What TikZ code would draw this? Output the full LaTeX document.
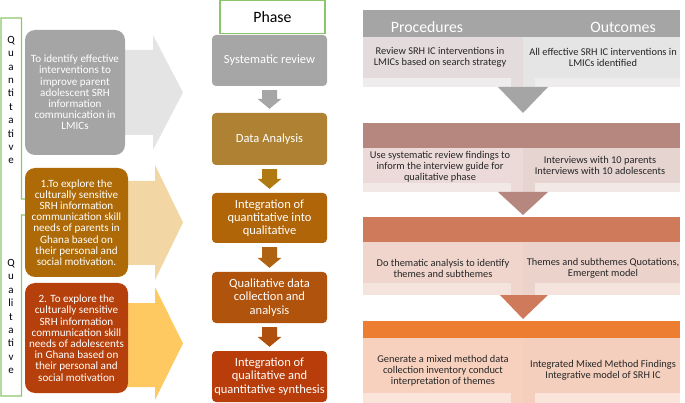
\documentclass[tikz,border=0pt]{standalone}
\usepackage{fontspec}
\setmainfont{Carlito}
\definecolor{gline}{HTML}{8CC66A}
\definecolor{gbox}{HTML}{A5A5A5}
\definecolor{garrow}{HTML}{E4E4E4}
\definecolor{tarrow}{HTML}{F2D7A4}
\definecolor{yarrow}{HTML}{FFC962}
\definecolor{bbox}{HTML}{AD6A06}
\definecolor{rbox}{HTML}{B5400C}
\definecolor{pda}{HTML}{AE8232}
\definecolor{piq}{HTML}{AF6508}
\definecolor{pqd}{HTML}{B0530C}
\definecolor{pii}{HTML}{B83D0A}
\definecolor{aa}{HTML}{A6A6A6}
\definecolor{ab}{HTML}{B07A12}
\definecolor{ac}{HTML}{AE6212}
\definecolor{ad}{HTML}{B0500F}
\definecolor{hb}{HTML}{B6877F}
\definecolor{hc}{HTML}{CF7A5B}
\definecolor{hd}{HTML}{ED7D31}
\definecolor{la}{HTML}{E4DCDC}\definecolor{ra}{HTML}{E5E5E5}\definecolor{sa}{HTML}{EEECEC}
\definecolor{lb}{HTML}{EBDAD7}\definecolor{rb}{HTML}{E6D4D1}\definecolor{sb}{HTML}{F2E8E6}
\definecolor{lc}{HTML}{F0D5CC}\definecolor{rc}{HTML}{EBD3CC}\definecolor{sc}{HTML}{F5E3DD}
\definecolor{ld}{HTML}{F7D1BE}\definecolor{rd}{HTML}{F4CFBD}\definecolor{sd}{HTML}{FBE4D9}
\begin{document}
\begin{tikzpicture}[x=1pt,y=-1pt,
  lbox/.style={rounded corners=10pt, text=white, align=center, inner sep=0pt,
    font=\fontsize{11.1}{11.2}\selectfont, minimum width=#1},
  pbox/.style={rounded corners=4pt, text=white, align=center, inner sep=0pt,
    font=\fontsize{12.5}{13.3}\selectfont, minimum width=115pt},
  ctext/.style={align=center, inner sep=0pt, text=black!85,
    font=\fontsize{10.4}{11.2}\selectfont},
  htext/.style={inner sep=0pt, text=white, font=\fontsize{15.8}{17}\selectfont},
  vtext/.style={align=center, inner sep=0pt, font=\fontsize{11}{13.4}\selectfont},
]
\useasboundingbox (0,0) rectangle (685,403);

% green bracket
\draw[gline, line width=1.1pt] (1,18) -- (21.5,18) -- (21.5,199) -- (27,199) -- (27,196) -- (33,207)
  -- (27,218) -- (27,215) -- (21.5,215) -- (21.5,396) -- (1,396) -- cycle;
\node[vtext] (quant) at (11,100) {Q\\u\\a\\n\\ti\\t\\a\\ti\\v\\e};
\node[vtext] (qual) at (11,316.5) {Q\\u\\a\\li\\t\\a\\ti\\v\\e};

% block arrows on the left
\fill[garrow] (115,50) -- (153,50) -- (153,35) -- (183,92.5) -- (153,150) -- (153,135) -- (115,135) -- cycle;
\fill[tarrow] (115,181) -- (155,181) -- (155,165) -- (183,222.5) -- (155,280) -- (155,265) -- (115,265) -- cycle;
\fill[yarrow] (115,303) -- (155,303) -- (155,287) -- (183,343.5) -- (155,400) -- (155,387) -- (115,387) -- cycle;

% left objective boxes
\node[lbox=100pt, fill=gbox, minimum height=125pt] (obj1) at (75,92.5)
  {To identify effective\\interventions to\\improve parent\\adolescent SRH\\information\\communication in\\LMICs};
\node[lbox=103pt, fill=bbox, minimum height=109pt] (obj2) at (76.5,222.5)
  {1.To explore the\\culturally sensitive\\SRH information\\communication skill\\needs of parents in\\Ghana based on\\their personal and\\social motivation.};
\node[lbox=103pt, fill=rbox, minimum height=110pt] (obj3) at (76.5,338)
  {2. To explore the\\culturally sensitive\\SRH information\\communication skill\\needs of adolescents\\in Ghana based on\\their personal and\\social motivation};

% phase column
\node[draw=gline, line width=1.1pt, fill=white, minimum width=105pt, minimum height=33pt,
  font=\fontsize{15.8}{17}\selectfont] (phase) at (272.5,17) {Phase};
\node[pbox, fill=aa, minimum height=51pt] (p1) at (269.5,60.5) {Systematic review};
\node[pbox, fill=pda, minimum height=52pt] (p2) at (269.5,139) {Data Analysis};
\node[pbox, fill=piq, minimum height=50pt] (p3) at (269.5,218) {Integration of\\quantitative into\\qualitative};
\node[pbox, fill=pqd, minimum height=51pt] (p4) at (269.5,297.5) {Qualitative data\\collection and\\analysis};
\node[pbox, fill=pii, minimum height=51pt] (p5) at (269.5,376.5) {Integration of\\qualitative and\\quantitative synthesis};

\newcommand\phasearr[3]{%
  \fill[#3] ([xshift=-7.5pt,yshift=-4pt]#1.south) -- ([xshift=7.5pt,yshift=-4pt]#1.south)
    -- ([xshift=7.5pt,yshift=14pt]#2.north) -- ([xshift=12pt,yshift=14pt]#2.north)
    -- ([yshift=4pt]#2.north) -- ([xshift=-12pt,yshift=14pt]#2.north)
    -- ([xshift=-7.5pt,yshift=14pt]#2.north) -- cycle;}
\phasearr{p1}{p2}{aa}
\phasearr{p2}{p3}{ab}
\phasearr{p3}{p4}{ac}
\phasearr{p4}{p5}{ad}

% right: procedures / outcomes bands
% band 1
\fill[gbox] (363,10) rectangle (680,37);
\fill[la] (363,37) rectangle (523,87);
\fill[ra] (523,37) rectangle (680,87);
\fill[sa] (363,78) rectangle (511,87);
\fill[sa] (535,78) rectangle (680,87);
\node[htext] (proc) at (427,27) {Procedures};
\node[htext] (outc) at (623,27) {Outcomes};
\node[ctext] (c1l) at (440,57.5) {Review SRH IC interventions in\\LMICs based on search strategy};
\node[ctext] (c1r) at (603,57.5) {All effective SRH IC interventions in\\LMICs identified};
\fill[gbox] (498,87) -- (548,87) -- (523,113) -- cycle;
% band 2
\fill[hb] (363,123) rectangle (680,148);
\fill[lb] (363,148) rectangle (523,192);
\fill[rb] (523,148) rectangle (680,192);
\fill[sb] (363,183) rectangle (511,192);
\fill[sb] (535,183) rectangle (680,192);
\node[ctext] (c2l) at (440,167) {Use systematic review findings to\\inform the interview guide for\\qualitative phase};
\node[ctext] (c2r) at (600,165.5) {Interviews with 10 parents\\Interviews with 10 adolescents};
\fill[hb] (498,192) -- (548,192) -- (523,215) -- cycle;
% band 3
\fill[hc] (363,217) rectangle (680,242);
\fill[lc] (363,242) rectangle (523,295);
\fill[rc] (523,242) rectangle (680,295);
\fill[sc] (363,283) rectangle (511,295);
\fill[sc] (535,283) rectangle (680,295);
\node[ctext] (c3l) at (443,268.5) {Do thematic analysis to identify\\themes and subthemes};
\node[ctext] (c3r) at (603,268.5) {Themes and subthemes Quotations,\\Emergent model};
\fill[hc] (500,295) -- (548,295) -- (523,319) -- cycle;
% band 4
\fill[hd] (363,321) rectangle (680,338);
\fill[ld] (363,338) rectangle (523,403);
\fill[rd] (523,338) rectangle (680,403);
\fill[sd] (363,393) rectangle (511,403);
\fill[sd] (535,393) rectangle (680,403);
\node[ctext] (c4l) at (443,370.5) {Generate a mixed method data\\collection inventory conduct\\interpretation of themes};
\node[ctext] (c4r) at (603,370.5) {Integrated Mixed Method Findings\\Integrative model of SRH IC};
\end{tikzpicture}
\end{document}
